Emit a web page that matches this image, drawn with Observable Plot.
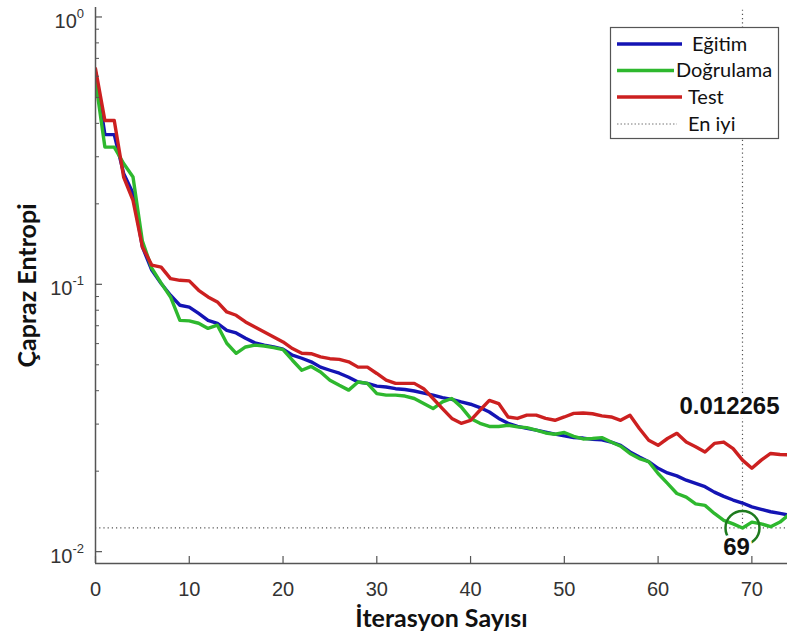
<!DOCTYPE html>
<html><head><meta charset="utf-8">
<script src="https://cdn.jsdelivr.net/npm/d3@7"></script>
<script src="https://cdn.jsdelivr.net/npm/@observablehq/plot@0.6"></script>
<style>body{margin:0;background:#fff}#chart{width:787px;height:639px}</style>
</head><body><div id="chart"></div>
<script>
// ---- data ----
const iterations = d3.range(0, 75);
const egitim = [0.62,0.363,0.363,0.26,0.219,0.138,0.113,0.1007,0.091,0.0835,
  0.0822,0.0778,0.0733,0.0715,0.0673,0.0658,0.0628,0.0604,0.0592,0.0583,
  0.0572,0.0543,0.0529,0.0513,0.049,0.0477,0.0465,0.0449,0.0431,0.0426,
  0.0416,0.0413,0.0407,0.0404,0.0399,0.0392,0.0385,0.0377,0.0371,0.0363,
  0.0356,0.0346,0.0333,0.0315,0.0302,0.0294,0.0289,0.0285,0.028,0.0275,
  0.0271,0.0267,0.0266,0.0263,0.0262,0.0257,0.025,0.0236,0.0226,0.0217,
  0.0205,0.0197,0.0192,0.0185,0.018,0.0175,0.0167,0.0161,0.0156,0.0152,
  0.0147,0.0144,0.0141,0.0139,0.0137];
const dogrulama = [0.58,0.326,0.326,0.283,0.252,0.145,0.115,0.101,0.0897,0.0733,
  0.073,0.0715,0.0684,0.0703,0.0602,0.0552,0.0583,0.0592,0.0588,0.058,
  0.057,0.052,0.0477,0.0493,0.047,0.0438,0.0419,0.0402,0.0431,0.0426,
  0.039,0.0385,0.0385,0.0382,0.0374,0.0358,0.0343,0.0363,0.0374,0.0348,
  0.0315,0.0302,0.0294,0.0294,0.0297,0.0293,0.0291,0.0285,0.0278,0.0275,
  0.0279,0.027,0.0264,0.0265,0.0267,0.0257,0.0248,0.0233,0.0223,0.0217,
  0.0196,0.018,0.0165,0.016,0.0151,0.0149,0.0139,0.0131,0.0127,0.012265,
  0.0129,0.0127,0.0124,0.0129,0.0138];
const test = [0.64,0.41,0.41,0.252,0.206,0.138,0.118,0.116,0.105,0.1035,
  0.103,0.095,0.0897,0.0859,0.0788,0.0766,0.0723,0.0692,0.0663,0.0635,
  0.0609,0.0575,0.0552,0.055,0.0535,0.0527,0.0524,0.0513,0.049,0.049,
  0.0464,0.0438,0.0426,0.0426,0.0426,0.0407,0.0374,0.0343,0.0315,0.0302,
  0.031,0.0338,0.0368,0.0358,0.0319,0.0315,0.0324,0.0324,0.0315,0.031,
  0.0319,0.0329,0.033,0.0328,0.0322,0.0319,0.031,0.0324,0.0289,0.0261,
  0.025,0.0265,0.0277,0.0257,0.0247,0.0236,0.0254,0.0257,0.0243,0.022,
  0.0205,0.022,0.0233,0.0231,0.023];
const seriesNames = ["Eğitim", "Doğrulama", "Test"];
const seriesColors = ["#1414b4", "#2eb82e", "#cc2020"];
const bestName = "En iyi";
const xTicks = [0, 10, 20, 30, 40, 50, 60, 70];
const yMajor = [1, 0.1, 0.01];
const yMajorExp = ["0", "-1", "-2"];
const bestEpoch = 69;
const bestValue = 0.012265;
const bestLabel = "0.012265";
const xTitle = "İterasyon Sayısı";
const yTitle = "Çapraz Entropi";

// ---- build ----
const seriesValues = [egitim, dogrulama, test];
const rows = seriesValues.flatMap((vals, k) => vals.map((v, i) => ({i: iterations[i], v, s: seriesNames[k]})));
const yMinor = [];
[0.01, 0.1].forEach(d => { for (let k = 2; k <= 9; k++) yMinor.push(k * d); });
const yMin = 0.00903, yMax = 1.085, xMax = 73.8;
const axisColor = "#555";
const tickFont = "'Liberation Sans', Arial, sans-serif";
const titleFont = "Lato, 'Open Sans', sans-serif";
const dotted = {stroke: "#555", strokeWidth: 1.2, strokeDasharray: "1.2,3"};

const plot = Plot.plot({
  width: 787, height: 639,
  marginLeft: 95, marginRight: 0, marginTop: 7, marginBottom: 76,
  x: {domain: [0, xMax], axis: null},
  y: {type: "log", domain: [yMin, yMax], axis: null},
  color: {domain: seriesNames, range: seriesColors},
  style: {background: "white", overflow: "visible"},
  marks: [
    Plot.ruleY([bestValue], {x1: 0, x2: xMax, ...dotted}),
    Plot.ruleX([bestEpoch], {y1: bestValue, y2: yMax, ...dotted}),
    Plot.lineY(rows, {x: "i", y: "v", stroke: "s", strokeWidth: 3.4, clip: true}),
    Plot.dot([{i: bestEpoch, v: bestValue}], {x: "i", y: "v", r: 17, stroke: "#1e7a1e", strokeWidth: 2.5, fill: "none"}),
    Plot.ruleX([0], {stroke: axisColor, strokeWidth: 1.5}),
    Plot.ruleY([yMin], {stroke: axisColor, strokeWidth: 1.5}),
    Plot.ruleX(xTicks, {y1: yMin, y2: yMin, insetBottom: 7, stroke: axisColor, strokeWidth: 1.2}),
    Plot.ruleY(yMajor, {x1: 0, x2: 0, insetRight: -7, stroke: axisColor, strokeWidth: 1.2}),
    Plot.ruleY(yMinor, {x1: 0, x2: 0, insetRight: -4, stroke: axisColor, strokeWidth: 1}),
    Plot.text(xTicks, {x: d => d, y: yMin, dy: 26, text: d => String(d), fontSize: 20, fill: "#333", fontFamily: tickFont}),
    Plot.text([bestLabel], {x: bestEpoch, y: bestValue, dx: -13, dy: -122, text: d => d, fontSize: 24, fontWeight: "bold",
      fill: "#111", fontFamily: tickFont, stroke: "white", strokeWidth: 8, paintOrder: "stroke", letterSpacing: "0.6px"}),
    Plot.text([String(bestEpoch)], {x: bestEpoch, y: bestValue, dx: -6, dy: 19, text: d => d, fontSize: 24, fontWeight: "bold",
      fill: "#111", fontFamily: tickFont, stroke: "white", strokeWidth: 6, paintOrder: "stroke"}),
    Plot.text([xTitle], {frameAnchor: "bottom", dy: 55, lineAnchor: "middle", textAnchor: "middle", text: d => d,
      fontSize: 25, fontWeight: "bold", fill: "#111", fontFamily: titleFont, letterSpacing: "0.9px"}),
    Plot.text([yTitle], {frameAnchor: "left", dx: -68, rotate: -90, lineAnchor: "middle", textAnchor: "middle", text: d => d,
      fontSize: 25, fontWeight: "bold", fill: "#111", fontFamily: titleFont, letterSpacing: "0.3px"})
  ]
});

const svg = d3.select(plot);
const ys = plot.scale("y");
const xs = plot.scale("x");
const axisX0 = xs.apply(0);
const g = svg.append("g");
yMajor.forEach((v, k) => {
  const py = ys.apply(v);
  const t = g.append("text").attr("x", axisX0 - 11).attr("y", py + 11.5)
    .attr("text-anchor", "end").attr("fill", "#333").style("font-family", tickFont).style("font-size", "20px");
  t.append("tspan").text("10");
  t.append("tspan").attr("dy", -10).style("font-size", "13px").text(yMajorExp[k]);
});

// legend
const lg = svg.append("g");
lg.append("rect").attr("x", 610.5).attr("y", 27.5).attr("width", 168).attr("height", 111)
  .attr("fill", "white").attr("stroke", "#555").attr("stroke-width", 1.2);
const entries = [
  {name: seriesNames[0], color: seriesColors[0], y: 44, x2: 682, tx: 692},
  {name: seriesNames[1], color: seriesColors[1], y: 70.5, x2: 674, tx: 676},
  {name: seriesNames[2], color: seriesColors[2], y: 97, x2: 682, tx: 688},
  {name: bestName, color: "#777", y: 124, x2: 677, tx: 688, dotted: true}
];
entries.forEach(e => {
  lg.append("line").attr("x1", 617).attr("x2", e.x2).attr("y1", e.y).attr("y2", e.y)
    .attr("stroke", e.color).attr("stroke-width", e.dotted ? 1 : 3.4)
    .attr("stroke-dasharray", e.dotted ? "1.5,2" : null);
  lg.append("text").attr("x", e.tx).attr("y", e.y + 6.5).attr("fill", "#111")
    .attr("text-anchor", "start")
    .style("font-family", titleFont).style("font-size", "20px").text(e.name);
});

document.getElementById("chart").appendChild(plot);
</script>
</body></html>
